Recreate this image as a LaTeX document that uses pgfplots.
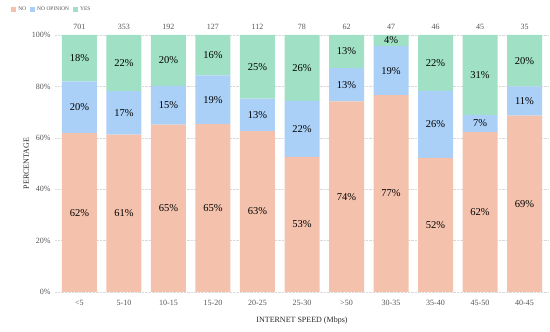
\documentclass[border=0pt]{standalone}
\usepackage{fontspec}
\setmainfont{Liberation Serif}
\usepackage{pgfplots}
\usepackage{pgfplotstable}
\pgfplotsset{compat=1.18}
\definecolor{cno}{RGB}{244,194,172}
\definecolor{cop}{RGB}{170,208,247}
\definecolor{cyes}{RGB}{160,224,196}
\definecolor{tgray}{RGB}{85,85,85}
\pgfplotstableread{
x no op yes n
0 61.8 20.2 18.0 701
1 61.2 17.0 21.8 353
2 65.1 15.1 19.8 192
3 65.3 19.0 15.7 127
4 62.6 12.6 24.8 112
5 52.6 21.8 25.6 78
6 74.2 12.9 12.9 62
7 76.6 19.1 4.3 47
8 52.2 26.1 21.7 46
9 62.2 6.7 31.1 45
10 68.6 11.4 20.0 35
}\data
\begin{document}
\begin{tikzpicture}
\begin{axis}[
  name=ax,
  scale only axis,
  width=494pt, height=257pt,
  ybar stacked, bar width=35pt,
  xmin=-0.55, xmax=10.55, ymin=0, ymax=100,
  axis line style={draw=none},
  ymajorgrids,
  grid style={densely dotted, draw=black!15},
  xtick=data,
  xticklabels={<5,5-10,10-15,15-20,20-25,25-30,>50,30-35,35-40,45-50,40-45},
  ytick={0,20,40,60,80,100},
  yticklabel={\pgfmathprintnumber{\tick}\%},
  /pgf/number format/assume math mode=true,
  tick label style={font=\fontsize{8}{9}\selectfont, text=tgray},
  major tick length=0pt,
  xticklabel style={yshift=-5pt},
  yticklabel style={xshift=-1pt},
  xlabel={INTERNET SPEED (Mbps)},
  ylabel={PERCENTAGE},
  label style={font=\fontsize{8}{9}\selectfont, text=black!85},
  xlabel style={yshift=-4pt},
  ylabel style={yshift=-4pt},
  legend columns=3,
  legend style={draw=none, fill=none, at={(-0.095,1.125)}, anchor=north west,
    font=\fontsize{5.5}{6}\selectfont, text=tgray,
    /tikz/every even column/.append style={column sep=2pt}},
  legend image code/.code={\fill[#1] (0pt,-2.5pt) rectangle (5pt,2.5pt);},
]
\addplot[fill=cno, draw=none] table[x=x, y=no] {\data};
\addplot[fill=cop, draw=none] table[x=x, y=op] {\data};
\addplot[fill=cyes, draw=none] table[x=x, y=yes] {\data};
\legend{NO, NO OPINION, YES}
\end{axis}
\begin{axis}[
  at={(ax.south west)}, anchor=south west,
  scale only axis,
  width=494pt, height=257pt,
  xmin=-0.55, xmax=10.55, ymin=0, ymax=100,
  axis lines=none, ticks=none,
  clip=false,
  /pgf/number format/assume math mode=true,
  every node near coord/.append style={anchor=center, text=black, font=\fontsize{10.5}{12}\selectfont},
]
\addplot[draw=none, mark=none, nodes near coords={\pgfmathprintnumber[fixed,precision=0,assume math mode=true]{\pgfplotspointmeta}\%}, point meta=explicit]
  table[x=x, y expr=\thisrow{no}/2, meta=no] {\data};
\addplot[draw=none, mark=none, nodes near coords={\pgfmathprintnumber[fixed,precision=0,assume math mode=true]{\pgfplotspointmeta}\%}, point meta=explicit]
  table[x=x, y expr=\thisrow{no}+\thisrow{op}/2, meta=op] {\data};
\addplot[draw=none, mark=none, nodes near coords={\pgfmathprintnumber[fixed,precision=0,assume math mode=true]{\pgfplotspointmeta}\%}, point meta=explicit]
  table[x=x, y expr=\thisrow{no}+\thisrow{op}+\thisrow{yes}/2, meta=yes] {\data};
\addplot[draw=none, mark=none, nodes near coords={\pgfmathprintnumber[fixed,precision=0,assume math mode=true]{\pgfplotspointmeta}}, point meta=explicit,
  every node near coord/.append style={anchor=south, yshift=2pt, text=tgray, font=\fontsize{8}{9}\selectfont}]
  table[x=x, y expr=100, meta=n] {\data};
\end{axis}
\pgfresetboundingbox
\path (ax.south west) ++(-55pt,-40pt) rectangle ([shift={(1pt,35pt)}]ax.north east);
\end{tikzpicture}
\end{document}
